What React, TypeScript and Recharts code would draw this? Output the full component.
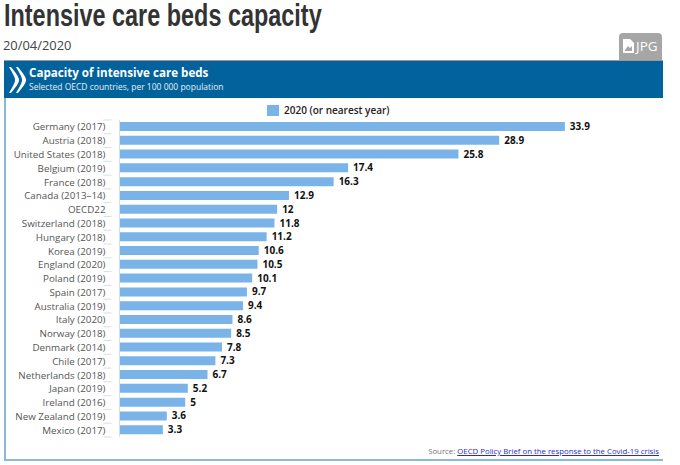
import React from "react";
import { BarChart, Bar, XAxis, YAxis, Legend, LabelList } from "recharts";

const categories = ["Germany (2017)","Austria (2018)","United States (2018)","Belgium (2019)","France (2018)","Canada (2013–14)","OECD22","Switzerland (2018)","Hungary (2018)","Korea (2019)","England (2020)","Poland (2019)","Spain (2017)","Australia (2019)","Italy (2020)","Norway (2018)","Denmark (2014)","Chile (2017)","Netherlands (2018)","Japan (2019)","Ireland (2016)","New Zealand (2019)","Mexico (2017)"];
const values = [33.9,28.9,25.8,17.4,16.3,12.9,12,11.8,11.2,10.6,10.5,10.1,9.7,9.4,8.6,8.5,7.8,7.3,6.7,5.2,5,3.6,3.3];
const seriesName = "2020 (or nearest year)";
const data = categories.map((name, i) => ({ name, value: values[i] }));

const BODY = "'Open Sans', 'Noto Sans', sans-serif";
const abs = (s: React.CSSProperties): React.CSSProperties => ({ position: "absolute", whiteSpace: "nowrap", ...s });

const BAND = 13.8;
const CategoryTick = (props: any) => {
  const { x, y, payload, index } = props;
  return (
    <g>
      <text x={x - 6} y={y} dy={3.6} textAnchor="end" fontSize={9.8} fill="#555" fontFamily={BODY}>{payload.value}</text>
      <line x1={x - 8} x2={x} y1={y - BAND / 2} y2={y - BAND / 2} stroke="#d3dfea" />
      {index === categories.length - 1 && <line x1={x - 8} x2={x} y1={y + BAND / 2} y2={y + BAND / 2} stroke="#d3dfea" />}
    </g>
  );
};

const LegendBox = () => (
  <div style={{ position: "relative", marginLeft: 267, display: "flex", alignItems: "center", height: 12, width: 180 }}>
    <span style={{ width: 12, height: 11, background: "#7ab3e8", display: "inline-block", marginRight: 5 }} />
    <span style={{ font: `600 10px ${BODY}`, color: "#222" }}>{seriesName}</span>
  </div>
);

export default function App() {
  return (
    <div style={{ position: "absolute", left: 0, top: 0, width: 680, height: 465, background: "#fff", overflow: "hidden" }}>
      <div style={abs({ left: 4, top: 0, font: "700 30.5px/30px 'Liberation Sans', sans-serif", color: "#333", transformOrigin: "left top", transform: "scaleX(0.768)" })}>Intensive care beds capacity</div>
      <div style={abs({ left: 3, top: 36, font: `400 12.9px ${BODY}`, color: "#444" })}>20/04/2020</div>

      <div style={abs({ left: 619, top: 33, width: 43, height: 27, background: "#a6a6a6", borderRadius: "4px 4px 0 0" })}>
        <svg width={12} height={15} style={{ position: "absolute", left: 4, top: 6 }}>
          <path d="M0 0 H7 L11 4 V14 H0 Z M2 11 L5 7 L7 9 L9 7 V12 H2 Z" fill="#fff" fillRule="evenodd" />
        </svg>
        <span style={abs({ left: 17, top: 4, font: `400 13.5px ${BODY}`, color: "#fff" })}>JPG</span>
      </div>

      <div style={abs({ left: 4, top: 60, width: 659, height: 401, boxSizing: "border-box", borderLeft: "2px solid #8ab8d8", borderBottom: "2px solid #8ab8d8" })} />
      <div style={abs({ left: 4, top: 60, width: 659, height: 38, background: "#02629b", borderTop: "1px solid #999", boxSizing: "border-box" })}>
        <svg width={18} height={28} style={{ position: "absolute", left: 4, top: 5 }}>
          <path d="M1 1 C5 8 7 11 7 14 C7 17 5 20 1 27 L3 27 C8 21 11 17 11 14 C11 11 8 7 3 1 Z" fill="#fff" />
          <path d="M8 1 C12 8 14 11 14 14 C14 17 12 20 8 27 L10 27 C15 21 18 17 18 14 C18 11 15 7 10 1 Z" fill="#fff" />
        </svg>
        <span style={abs({ left: 25, top: 4, font: `700 11.6px ${BODY}`, color: "#fff" })}>Capacity of intensive care beds</span>
        <span style={abs({ left: 25, top: 20, font: `400 8.5px ${BODY}`, color: "#e8f0f6" })}>Selected OECD countries, per 100 000 population</span>
      </div>

      <BarChart width={680} height={465} data={data} layout="vertical" barCategoryGap={2.4}
        margin={{ top: 108, bottom: 28, left: 4, right: 35 }} style={{ position: "absolute", left: 0, top: 0 }}>
        <XAxis type="number" domain={[0, 40]} hide />
        <YAxis type="category" dataKey="name" width={115.5} interval={0} axisLine={{ stroke: "#d3dfea" }} tickLine={false} tick={<CategoryTick />} />
        <Legend content={<LegendBox />} verticalAlign="top" wrapperStyle={{ left: 0, top: 104, width: 680, bottom: "auto" }} />
        <Bar dataKey="value" name={seriesName} fill="#7ab3e8" barSize={9} isAnimationActive={false}>
          <LabelList dataKey="value" position="right" offset={5} fontSize={10} fontWeight={700} fill="#111" fontFamily={BODY} />
        </Bar>
      </BarChart>

      <div style={abs({ right: 21, top: 446, font: `400 7.8px ${BODY}`, color: "#777" })}>
        Source: <a href="#" style={{ color: "#2a2ad0", textDecoration: "underline" }}>OECD Policy Brief on the response to the Covid-19 crisis</a>
      </div>
    </div>
  );
}
